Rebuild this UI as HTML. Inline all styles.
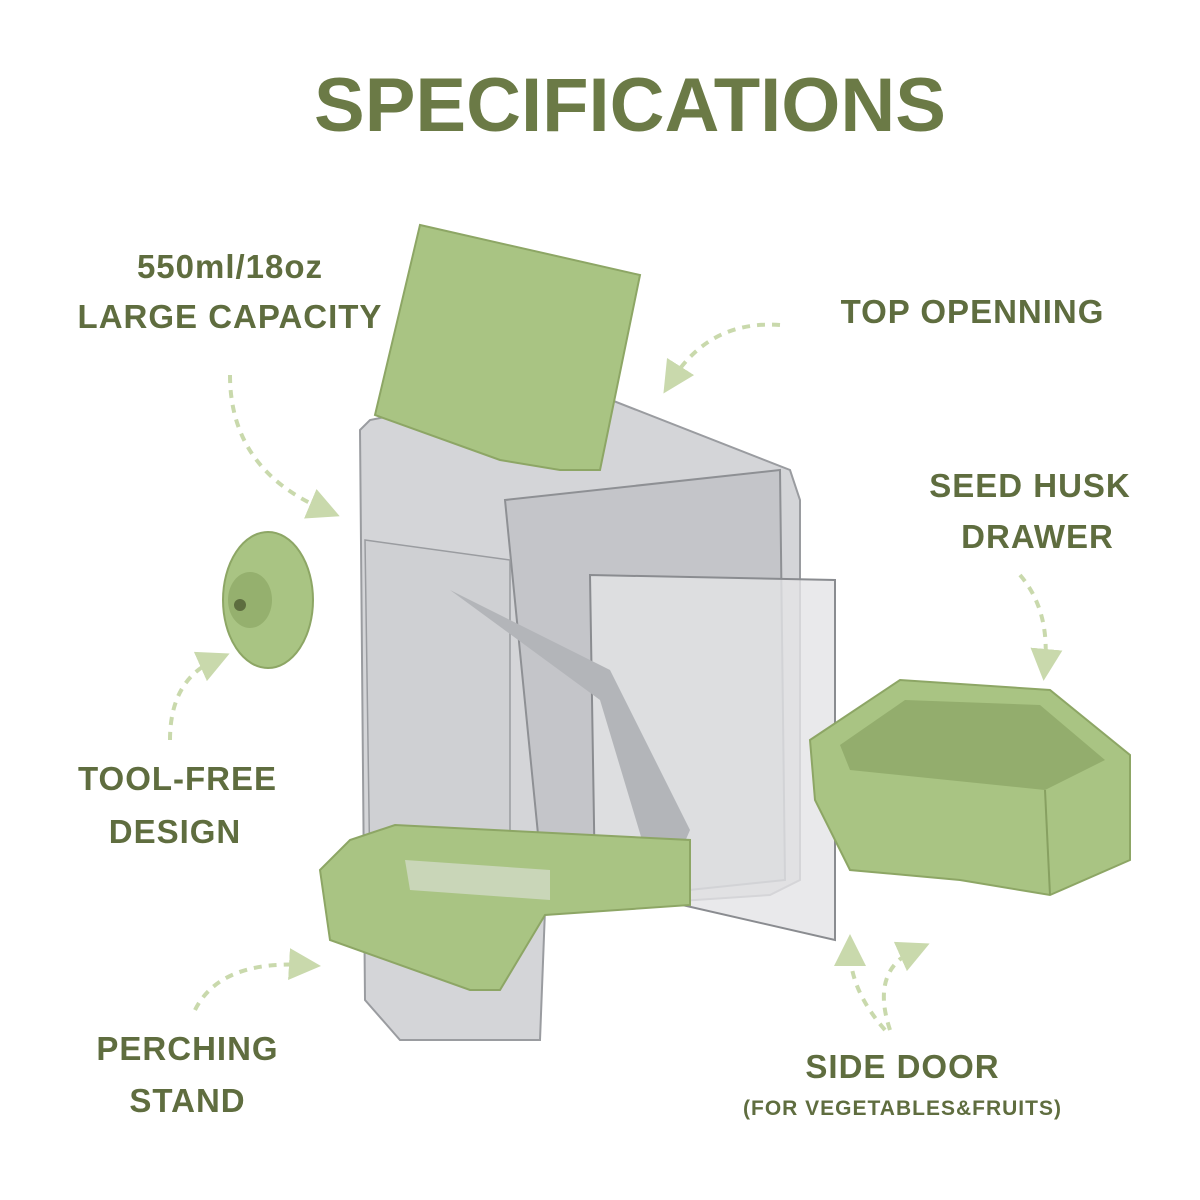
<!DOCTYPE html>
<html><head><meta charset="utf-8"><style>
html,body{margin:0;padding:0;background:#fff;}
.t{position:absolute;font-family:"Liberation Sans",sans-serif;font-weight:bold;color:#5f6d3f;white-space:nowrap;text-align:center;letter-spacing:1px}
</style></head><body>
<div style="position:relative;width:1200px;height:1200px;overflow:hidden">
<svg width="1200" height="1200" style="position:absolute;left:0;top:0">
<defs><marker id="a" markerWidth="8" markerHeight="8" refX="4" refY="4" orient="auto"><path d="M0,0 L8,4 L0,8 z" fill="#c9d9ac"/></marker></defs>
<g fill="none" stroke="#c9d9ac" stroke-width="4" stroke-dasharray="8 7" marker-end="url(#a)">
<path d="M780,325 Q710,320 672,380"/>
<path d="M230,375 Q230,470 325,510"/>
<path d="M1020,575 Q1050,610 1045,665"/>
<path d="M170,740 Q170,680 215,660"/>
<path d="M195,1010 Q220,960 305,965"/>
<path d="M885,1030 Q850,990 850,950"/>
<path d="M890,1030 Q870,970 915,950"/>
</g>
<path d="M360,430 L370,420 L520,390 L560,380 L790,470 L800,500 L800,880 L770,895 L545,910 L540,1040 L400,1040 L365,1000 Z" fill="#d4d5d8" stroke="#9a9ca0" stroke-width="2"/>
<path d="M505,500 L780,470 L785,880 L545,905 Z" fill="#c4c5c9" stroke="#8e9094" stroke-width="2"/>
<path d="M365,540 L510,560 L510,900 L370,880 Z" fill="#cfd0d3" stroke="#9a9ca0" stroke-width="1.5"/>
<path d="M590,575 L835,580 L835,940 L595,885 Z" fill="#e3e4e6" fill-opacity="0.8" stroke="#8a8c90" stroke-width="2"/>
<path d="M450,590 L610,670 L690,830 L660,900 L600,700 Z" fill="#b3b5b9"/>
<path d="M375,415 L420,225 L640,275 L600,470 L560,470 L500,460 Z" fill="#a9c483" stroke="#8da665" stroke-width="2"/>
<path d="M320,870 L350,840 L395,825 L690,840 L690,905 L545,915 L500,990 L470,990 L330,940 Z" fill="#a9c483" stroke="#8da665" stroke-width="2"/>
<path d="M405,860 L550,870 L550,900 L410,890 Z" fill="#c9d6b8"/>
<ellipse cx="268" cy="600" rx="45" ry="68" fill="#a9c483" stroke="#8da665" stroke-width="2"/>
<ellipse cx="250" cy="600" rx="22" ry="28" fill="#95b06e"/>
<circle cx="240" cy="605" r="6" fill="#5d6d3f"/>
<path d="M810,740 L900,680 L1050,690 L1130,755 L1130,860 L1050,895 L960,880 L850,870 L815,800 Z" fill="#a9c483" stroke="#8da665" stroke-width="2"/>
<path d="M840,745 L905,700 L1040,705 L1105,760 L1045,790 L850,770 Z" fill="#93ad6d"/>
<path d="M1045,790 L1050,895" stroke="#87a061" stroke-width="2"/>
</svg>
<div class="t" style="left:300px;top:62px;width:660px;font-size:76px;color:#6b7a46;letter-spacing:0">SPECIFICATIONS</div>
<div class="t" style="left:80px;top:248px;width:300px;font-size:33px">550ml/18oz</div>
<div class="t" style="left:40px;top:298px;width:380px;font-size:33px">LARGE CAPACITY</div>
<div class="t" style="left:800px;top:293px;width:345px;font-size:33px">TOP OPENNING</div>
<div class="t" style="left:890px;top:467px;width:280px;font-size:33px">SEED HUSK</div>
<div class="t" style="left:890px;top:518px;width:295px;font-size:33px">DRAWER</div>
<div class="t" style="left:40px;top:760px;width:275px;font-size:33px">TOOL-FREE</div>
<div class="t" style="left:40px;top:813px;width:270px;font-size:33px">DESIGN</div>
<div class="t" style="left:60px;top:1030px;width:255px;font-size:33px">PERCHING</div>
<div class="t" style="left:60px;top:1082px;width:255px;font-size:33px">STAND</div>
<div class="t" style="left:770px;top:1048px;width:265px;font-size:33px">SIDE DOOR</div>
<div class="t" style="left:700px;top:1097px;width:405px;font-size:21px">(FOR VEGETABLES&amp;FRUITS)</div>
</div>
</body></html>
